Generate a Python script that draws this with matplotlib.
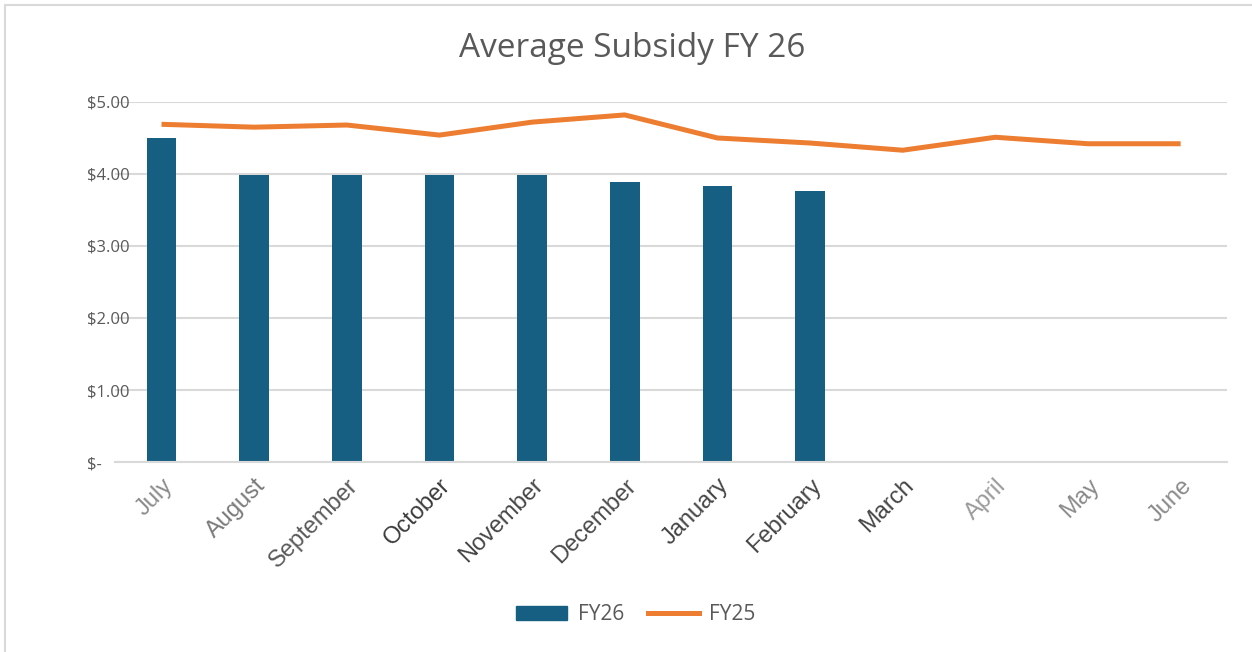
import matplotlib.pyplot as plt
from matplotlib.ticker import FuncFormatter
from matplotlib.patches import Rectangle
from matplotlib.lines import Line2D

# === Datos ===
meses = ["July", "August", "September", "October", "November", "December",
         "January", "February", "March", "April", "May", "June"]
fy26 = [4.50, 3.98, 3.98, 3.98, 3.98, 3.89, 3.83, 3.76]
fy25 = [4.69, 4.65, 4.68, 4.54, 4.72, 4.82, 4.50, 4.43, 4.33, 4.51, 4.42, 4.42]
colores_meses = ["#8c8c8c", "#7a7a7a", "#595959", "#3a3a3a", "#454545", "#4a4a4a",
                 "#454545", "#454545", "#454545", "#9a9a9a", "#8a8a8a", "#8a8a8a"]

AZUL = "#175f82"
NARANJA = "#ed7d31"
GRIS_TXT = "#595959"
GRIS_LINEA = "#d9d9d9"

plt.rcParams["font.family"] = ["Open Sans", "DejaVu Sans"]

fig = plt.figure(figsize=(12.52, 6.52), dpi=100)
ax = fig.add_axes([0.092, 0.2914, 0.888, 0.5522])

x = list(range(len(meses)))
ax.bar(x[:len(fy26)], fy26, width=0.32, color=AZUL, zorder=2)
ax.plot(x, fy25, color=NARANJA, linewidth=3.6, solid_capstyle="butt", zorder=3)

ax.set_xlim(-0.5, len(meses) - 0.5)
ax.set_ylim(0, 5)
ax.set_yticks([0, 1, 2, 3, 4, 5])
ax.yaxis.set_major_formatter(FuncFormatter(lambda v, p: "$-" if v == 0 else f"${v:.2f}"))
ax.grid(axis="y", color=GRIS_LINEA, linewidth=1.5, zorder=0)
ax.set_axisbelow(True)

for s in ["top", "right", "left"]:
    ax.spines[s].set_visible(False)
ax.spines["bottom"].set_color(GRIS_LINEA)
ax.spines["bottom"].set_linewidth(1.5)

ax.tick_params(axis="y", length=0, pad=20, labelsize=12, labelcolor=GRIS_TXT)
for lbl in ax.get_yticklabels():
    lbl.set_horizontalalignment("left")

ax.set_xticks(x)
ax.set_xticklabels(meses, rotation=45, ha="right", rotation_mode="anchor",
                   fontsize=17, family=["Liberation Sans", "DejaVu Sans"])
ax.tick_params(axis="x", length=0, pad=9)
for lbl, c in zip(ax.get_xticklabels(), colores_meses):
    lbl.set_color(c)

fig.text(0.505, 0.926, "Average Subsidy FY 26", ha="center", va="center",
         fontsize=24, color=GRIS_TXT)

# Leyenda
handles = [Rectangle((0, 0), 1, 1, color=AZUL),
           Line2D([0], [0], color=NARANJA, linewidth=3.6)]
fig.legend(handles, ["FY26", "FY25"], loc="center", bbox_to_anchor=(0.508, 0.057),
           ncol=2, frameon=False, fontsize=15, labelcolor=GRIS_TXT,
           handlelength=2.45, handleheight=0.7, columnspacing=1.15, handletextpad=0.5)

# Marco del gráfico
fig.patches.append(Rectangle((5 / 1252, -0.1), 1.2, 1 - 5 / 652 + 0.1,
                             transform=fig.transFigure, fill=False,
                             edgecolor=GRIS_LINEA, linewidth=1.5))

fig.savefig("out.png", dpi=100, facecolor="white")
